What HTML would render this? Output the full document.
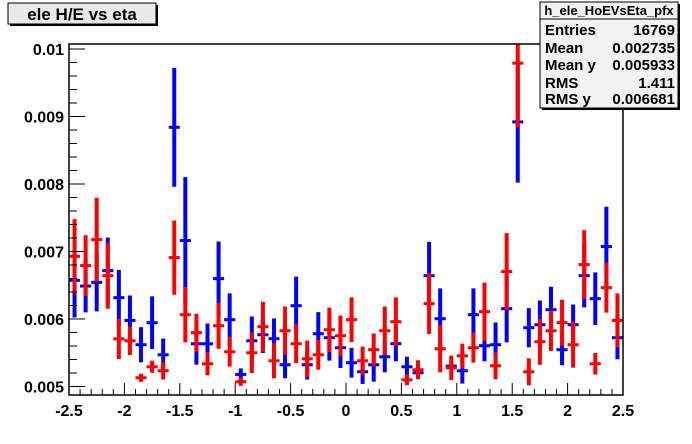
<!DOCTYPE html>
<html><head><meta charset="utf-8"><style>
body{margin:0;background:#fff;}
svg{display:block;font-family:"Liberation Sans",Arial,sans-serif;font-weight:bold;}
</style></head><body>
<svg id="c" width="692" height="444" viewBox="0 0 692 444">
<rect x="0" y="0" width="692" height="444" fill="#fff"/>
<g>
<rect x="8" y="3" width="148" height="21" fill="#e8e8e8" stroke="#000" stroke-width="1"/>
<rect x="156" y="5" width="2" height="21" fill="#000"/><rect x="10" y="24" width="148" height="2" fill="#000"/>
<text x="82" y="20" font-size="17" text-anchor="middle">ele H/E vs eta</text>
</g>
<g id="plot"></g>
<g>
<rect x="540" y="2" width="138" height="106" fill="#f2f2f2" stroke="#000"/>
<rect x="678" y="4" width="2" height="106" fill="#000"/><rect x="542" y="108" width="138" height="2" fill="#000"/>
<line x1="540" y1="19" x2="678" y2="19" stroke="#000"/>
<text x="609" y="15" font-size="13" text-anchor="middle">h_ele_HoEVsEta_pfx</text>
<text x="545" y="35" font-size="15">Entries</text><text x="675" y="35" font-size="15" text-anchor="end">16769</text>
<text x="545" y="53" font-size="15">Mean</text><text x="675" y="53" font-size="15" text-anchor="end">0.002735</text>
<text x="545" y="70" font-size="15">Mean y</text><text x="675" y="70" font-size="15" text-anchor="end">0.005933</text>
<text x="545" y="88" font-size="15">RMS</text><text x="675" y="88" font-size="15" text-anchor="end">1.411</text>
<text x="545" y="104" font-size="15">RMS y</text><text x="675" y="104" font-size="15" text-anchor="end">0.006681</text>
</g>
</svg>
<script>
const blueVals=[0.006573,0.006488,0.006543,0.006716,0.006316,0.005979,0.005619,0.005945,0.00547,0.00884,0.007162,0.005633,0.005633,0.006598,0.00599,0.005178,0.005677,0.005767,0.005708,0.005322,0.006197,0.005322,0.005782,0.005723,0.005574,0.005352,0.005218,0.005322,0.00544,0.005634,0.005292,0.005203,0.006642,0.006004,0.005302,0.005233,0.006064,0.005604,0.005619,0.006153,0.00892,0.005871,0.005915,0.006138,0.005545,0.005915,0.006642,0.006301,0.007073,0.005723];
const blueErrs=[0.00055,0.00039,0.00043,0.00049,0.00041,0.00037,0.00026,0.00039,0.00024,0.00088,0.00094,0.00031,0.0003,0.00055,0.00039,0.00009,0.00036,0.00027,0.0003,0.0002,0.00043,0.00022,0.00032,0.00034,0.0003,0.00022,0.00018,0.00025,0.00023,0.00026,0.00015,0.00009,0.0005,0.00045,0.00006,0.00019,0.00039,0.00023,0.00033,0.0005,0.0009,0.00029,0.00036,0.00034,0.00023,0.0003,0.00047,0.00039,0.00059,0.00032];
const redVals=[0.006929,0.006791,0.007176,0.006642,0.005707,0.005677,0.005129,0.005292,0.005233,0.00691,0.006064,0.005797,0.005337,0.0059,0.005515,0.00507,0.0055,0.005886,0.005381,0.005826,0.005634,0.00541,0.00547,0.005841,0.005752,0.00599,0.005381,0.005545,0.005826,0.00596,0.005099,0.005248,0.006227,0.005559,0.005277,0.005455,0.005574,0.006108,0.005307,0.006702,0.00979,0.005218,0.005663,0.005826,0.005945,0.005619,0.006806,0.005337,0.006464,0.005979];
const redErrs=[0.00055,0.00045,0.00062,0.00049,0.0003,0.00021,0.00006,0.00009,0.00013,0.00055,0.00041,0.00028,0.00017,0.00034,0.00022,0.00006,0.0003,0.00037,0.00026,0.00036,0.00029,0.00027,0.00022,0.00033,0.0003,0.00033,0.00021,0.00024,0.00036,0.00036,0.00008,0.00014,0.00045,0.00035,0.00018,0.00018,0.00022,0.00043,0.0002,0.00057,0.00095,0.0002,0.00034,0.0003,0.00034,0.00034,0.00051,0.00016,0.00037,0.0004];
const xTickLabels=["-2.5","-2","-1.5","-1","-0.5","0","0.5","1","1.5","2","2.5"];
const yTickLabels=["0.005","0.006","0.007","0.008","0.009","0.01"];
const X0=69,X1=623,Y0=44,Y1=395,xmin=-2.5,xmax=2.5;
const xs=v=>X0+(v-xmin)/(xmax-xmin)*(X1-X0);
const ys=v=>386.5-(v-0.005)*67500;
const NS="http://www.w3.org/2000/svg",g=document.getElementById('plot');
function mk(t,a){const e=document.createElementNS(NS,t);for(const k in a)e.setAttribute(k,a[k]);g.appendChild(e);return e;}
const clip=document.createElementNS(NS,'clipPath');clip.id='pc';const cr=document.createElementNS(NS,'rect');
cr.setAttribute('x',X0);cr.setAttribute('y',Y0);cr.setAttribute('width',X1-X0);cr.setAttribute('height',Y1-Y0);clip.appendChild(cr);g.appendChild(clip);
const series=document.createElementNS(NS,'g');series.setAttribute('clip-path','url(#pc)');g.appendChild(series);
function drawSeries(vals,errs,col,name){
 const bw=(X1-X0)/vals.length;
 vals.forEach((v,i)=>{
  const cx=X0+(i+0.5)*bw;
  const grp=document.createElementNS(NS,'g');
  
  
  const l=document.createElementNS(NS,'line');
  l.setAttribute('x1',cx);l.setAttribute('x2',cx);l.setAttribute('y1',ys(v+errs[i]));l.setAttribute('y2',ys(v-errs[i]));
  l.setAttribute('stroke',col);l.setAttribute('stroke-width',4);grp.appendChild(l);
  const h=document.createElementNS(NS,'line');
  h.setAttribute('x1',X0+i*bw);h.setAttribute('x2',X0+(i+1)*bw);h.setAttribute('y1',ys(v));h.setAttribute('y2',ys(v));
  h.setAttribute('stroke',col);h.setAttribute('stroke-width',3);grp.appendChild(h);
  series.appendChild(grp);
 });
}
drawSeries(blueVals,blueErrs,'#0000ff','blue-series');
drawSeries(redVals,redErrs,'#ff0000','red-series');
const fr=mk('rect',{x:X0,y:Y0,width:X1-X0,height:Y1-Y0,fill:'none',stroke:'#000','stroke-width':1.5});

for(let k=0;k<=50;k++){const v=xmin+k*0.1,x=xs(v),maj=k%5==0;
 mk('line',{x1:x,x2:x,y1:Y1,y2:Y1-(maj?12:6),stroke:'#000','stroke-width':1});}
xTickLabels.forEach(s=>{const t=mk('text',{x:xs(parseFloat(s)),y:416,'font-size':16,'text-anchor':'middle'});t.textContent=s;
 });
for(let k=-1;k<=26;k++){const v=0.005+k*0.0002,y=ys(v);if(y<Y0||y>Y1)continue;const maj=k%5==0;
 mk('line',{x1:X0,x2:X0+(maj?16:8),y1:y,y2:y,stroke:'#000','stroke-width':1});}
yTickLabels.forEach(s=>{const t=mk('text',{x:64,y:ys(parseFloat(s))+6,'font-size':16,'text-anchor':'end'});t.textContent=s;
 });
</script>
</body></html>
